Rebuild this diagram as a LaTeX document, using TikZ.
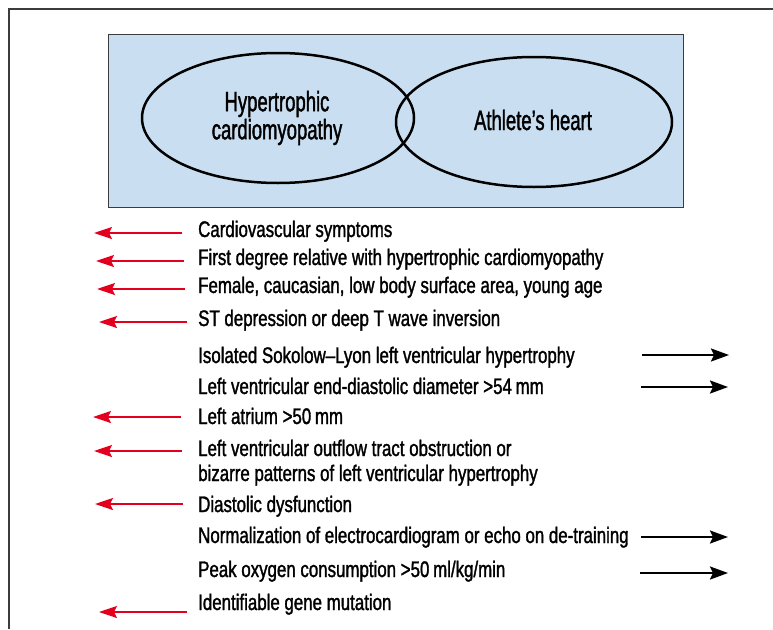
\documentclass[tikz,border=0pt]{standalone}
\usepackage{fontspec}
\setmainfont{Liberation Sans}
\newfontfamily\critfont[FakeStretch=0.75,FakeBold=1.4]{Liberation Sans}
\newfontfamily\vennfont[FakeStretch=0.66,FakeBold=1.4]{Liberation Sans}
\usetikzlibrary{arrows.meta}
\definecolor{vennblue}{RGB}{201,223,241}
\definecolor{hcmred}{RGB}{226,0,30}
\definecolor{framegray}{RGB}{60,60,60}
\tikzset{
  crit/.style={anchor=base west,inner sep=0pt,font=\critfont\fontsize{22.5}{25}\selectfont},
  venntext/.style={inner sep=0pt,align=center,font=\vennfont\fontsize{28}{28}\selectfont},
  toHCM/.style={draw=hcmred,line width=2pt,-{Stealth[length=18pt,width=12pt,inset=3pt]}},
  toAH/.style={draw=black,line width=2.2pt,-{Stealth[length=18pt,width=13pt,inset=3pt]}}
}
\begin{document}
\begin{tikzpicture}[x=1pt,y=-1pt,line cap=butt,line join=miter]
  \useasboundingbox (0,0) rectangle (773,629);
  \draw[framegray,line width=1.5pt] (9,629) -- (9,9) -- (773,9);
  \draw[framegray,line width=0.8pt,fill=vennblue] (108,34) rectangle (683,207);
  \draw[line width=2.5pt] (278,118) ellipse [x radius=136,y radius=65];
  \draw[line width=2.5pt] (534,122) ellipse [x radius=138,y radius=65];
  \node[venntext] (hcm) at (277,118) {Hypertrophic\\cardiomyopathy};
  \node[venntext] (ah) at (533,120) {Athlete’s heart};

  \node[crit] (cvs) at (198,237) {Cardiovascular symptoms};
  \node[crit] (fdr) at (198,265) {First degree relative with hypertrophic cardiomyopathy};
  \node[crit] (fem) at (198,293) {Female, caucasian, low body surface area, young age};
  \node[crit] (std) at (198,326) {ST depression or deep T wave inversion};
  \node[crit] (sok) at (198,363) {Isolated Sokolow–Lyon left ventricular hypertrophy};
  \node[crit] (lvd) at (198,394) {Left ventricular end-diastolic diameter >54\,mm};
  \node[crit] (la) at (198,424) {Left atrium >50\,mm};
  \node[crit,align=left] (lvo) at (198,481) {Left ventricular outflow tract obstruction or\\bizarre patterns of left ventricular hypertrophy};
  \node[crit] (dd) at (198,512) {Diastolic dysfunction};
  \node[crit] (nor) at (198,543) {Normalization of electrocardiogram or echo on de-training};
  \node[crit] (vo2) at (198,577) {Peak oxygen consumption >50\,ml/kg/min};
  \node[crit] (gen) at (198,610) {Identifiable gene mutation};

  \coordinate (cvs-s) at (182,233); \coordinate (cvs-e) at (94,233);
  \coordinate (fdr-s) at (184,261); \coordinate (fdr-e) at (96,261);
  \coordinate (fem-s) at (185,289); \coordinate (fem-e) at (97,289);
  \coordinate (std-s) at (187,322); \coordinate (std-e) at (99,322);
  \coordinate (sok-s) at (642,355); \coordinate (sok-e) at (729,355);
  \coordinate (lvd-s) at (641,387); \coordinate (lvd-e) at (728,387);
  \coordinate (la-s) at (181,417); \coordinate (la-e) at (93,417);
  \coordinate (lvo-s) at (182,451); \coordinate (lvo-e) at (94,451);
  \coordinate (dd-s) at (183,504); \coordinate (dd-e) at (95,504);
  \coordinate (nor-s) at (641,537); \coordinate (nor-e) at (728,537);
  \coordinate (vo2-s) at (640,573); \coordinate (vo2-e) at (728,573);
  \coordinate (gen-s) at (187,612); \coordinate (gen-e) at (99,612);

  \draw[toHCM] (cvs-s) -- (cvs-e);
  \draw[toHCM] (fdr-s) -- (fdr-e);
  \draw[toHCM] (fem-s) -- (fem-e);
  \draw[toHCM] (std-s) -- (std-e);
  \draw[toAH] (sok-s) -- (sok-e);
  \draw[toAH] (lvd-s) -- (lvd-e);
  \draw[toHCM] (la-s) -- (la-e);
  \draw[toHCM] (lvo-s) -- (lvo-e);
  \draw[toHCM] (dd-s) -- (dd-e);
  \draw[toAH] (nor-s) -- (nor-e);
  \draw[toAH] (vo2-s) -- (vo2-e);
  \draw[toHCM] (gen-s) -- (gen-e);
\end{tikzpicture}
\end{document}
